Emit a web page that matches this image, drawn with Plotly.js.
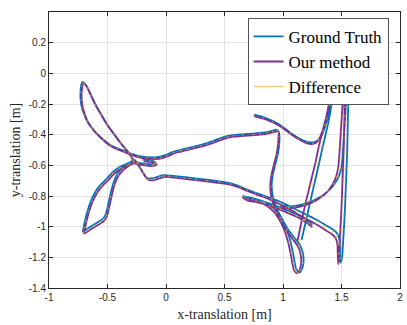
<!DOCTYPE html>
<html>
<head>
<meta charset="utf-8">
<script src="https://cdn.plot.ly/plotly-3.0.1.min.js"></script>
<style>
  html, body { margin: 0; padding: 0; background: #fff; }
  #plot { width: 407px; height: 325px; }
</style>
</head>
<body>
<div id="plot"></div>
<script>
// trajectory, segments split with null
// seg A: top right hook + steep line, seg B: left loops + upper line + right loop, seg C: lower line + right verticals
var gtX = [
  0.75, 0.83, 0.91, 0.99, 1.06, 1.13, 1.20, 1.26, 1.31, 1.35, 1.38, 1.405, 1.425, 1.415, 1.385, 1.342, 1.31, 1.268, 1.235, 1.20, 1.159,
  null,
  -0.20, -0.14, -0.10, -0.09, -0.12, -0.18, -0.24, -0.28,
  -0.34, -0.40, -0.46, -0.51, -0.56, -0.60, -0.64, -0.67, -0.69, -0.703, -0.71,
  -0.67, -0.62, -0.57, -0.535, -0.515, -0.50, -0.478, -0.452, -0.415, -0.37, -0.32, -0.285,
  -0.30, -0.324, -0.36, -0.395, -0.45, -0.509, -0.56, -0.609, -0.645, -0.675, -0.70, -0.714,
  -0.726, -0.731, -0.73, -0.72, -0.70, -0.68, -0.64, -0.595, -0.54, -0.48, -0.42, -0.36, -0.30, -0.24, -0.17, -0.10, -0.05,
  0.00, 0.06, 0.12, 0.175, 0.23, 0.29, 0.35, 0.40, 0.46, 0.52, 0.57, 0.65, 0.745, 0.80, 0.86, 0.91, 0.945,
  0.962, 0.97, 0.968, 0.955, 0.932, 0.912, 0.903, 0.915, 0.943, 0.985, 1.04, 1.10, 1.145, 1.172, 1.175, 1.16, 1.14, 1.115, 1.10, 1.085, 1.065, 1.035, 0.995, 0.95, 0.89, 0.82, 0.745, 0.68, 0.66,
  0.70, 0.77, 0.84, 0.91, 0.98, 1.05, 1.12, 1.18, 1.22, 1.25,
  null,
  -0.281, -0.252, -0.225, -0.20, -0.175, -0.153, -0.11, -0.06, -0.025, 0.02, 0.08, 0.15, 0.25, 0.35, 0.45, 0.546, 0.63, 0.69, 0.76, 0.83, 0.90, 0.973, 1.05, 1.116, 1.20, 1.287, 1.36, 1.43, 1.468, 1.485, 1.487, 1.49,
  1.505, 1.512, 1.52, 1.527, 1.533, 1.538, 1.543, 1.548, 1.551, 1.554, 1.557, 1.56, 1.563,
  1.548, 1.54, 1.532, 1.523, 1.515, 1.508, 1.498, 1.478, 1.445, 1.395, 1.335, 1.265, 1.185, 1.105, 1.035, 0.975
];
var gtY = [
  -0.27, -0.285, -0.31, -0.345, -0.385, -0.42, -0.445, -0.45, -0.43, -0.37, -0.29, -0.20, -0.13, -0.20, -0.33, -0.47, -0.58, -0.72, -0.83, -0.95, -1.086,
  null,
  -0.562, -0.566, -0.575, -0.583, -0.592, -0.59, -0.582, -0.575,
  -0.592, -0.612, -0.648, -0.69, -0.728, -0.768, -0.83, -0.895, -0.955, -1.00, -1.032,
  -1.012, -0.988, -0.965, -0.945, -0.92, -0.875, -0.80, -0.72, -0.655, -0.615, -0.588, -0.565,
  -0.54, -0.512, -0.48, -0.446, -0.39, -0.327, -0.262, -0.197, -0.14, -0.09, -0.062, -0.056,
  -0.08, -0.12, -0.17, -0.22, -0.265, -0.303, -0.35, -0.39, -0.43, -0.466, -0.488, -0.505, -0.523, -0.538, -0.546, -0.549, -0.544,
  -0.532, -0.512, -0.50, -0.489, -0.479, -0.468, -0.455, -0.442, -0.424, -0.41, -0.403, -0.398, -0.393, -0.389, -0.383, -0.374, -0.368,
  -0.378, -0.41, -0.46, -0.53, -0.60, -0.665, -0.74, -0.81, -0.875, -0.94, -1.015, -1.075, -1.12, -1.18, -1.235, -1.28, -1.30, -1.28, -1.235, -1.17, -1.10, -1.025, -0.96, -0.905, -0.86, -0.832, -0.815, -0.805, -0.80,
  -0.815, -0.825, -0.838, -0.856, -0.876, -0.898, -0.922, -0.948, -0.97, -0.99,
  null,
  -0.555, -0.58, -0.612, -0.645, -0.673, -0.684, -0.684, -0.672, -0.664, -0.665, -0.67, -0.676, -0.685, -0.694, -0.704, -0.716, -0.737, -0.757, -0.778, -0.795, -0.815, -0.837, -0.864, -0.89, -0.922, -0.955, -0.988, -1.02, -1.05, -1.10, -1.17, -1.235,
  -1.20, -1.12, -1.02, -0.92, -0.82, -0.72, -0.62, -0.52, -0.42, -0.32, -0.22, -0.14, -0.085,
  -0.10, -0.18, -0.28, -0.38, -0.48, -0.56, -0.62, -0.67, -0.715, -0.762, -0.798, -0.828, -0.851, -0.864, -0.868, -0.862
];
var estX = [
  0.755, 0.835, 0.915, 0.995, 1.065, 1.135, 1.20, 1.255, 1.30, 1.335, 1.365, 1.39, 1.41, 1.395, 1.35, 1.305, 1.275, 1.23, 1.195, 1.16, 1.125,
  null,
  -0.19, -0.13, -0.09, -0.08, -0.11, -0.17, -0.23, -0.27,
  -0.33, -0.39, -0.45, -0.50, -0.55, -0.59, -0.63, -0.66, -0.68, -0.693, -0.70,
  -0.66, -0.61, -0.56, -0.525, -0.505, -0.49, -0.468, -0.442, -0.405, -0.36, -0.31, -0.275,
  -0.29, -0.314, -0.35, -0.385, -0.44, -0.499, -0.55, -0.599, -0.635, -0.665, -0.69, -0.704,
  -0.716, -0.721, -0.72, -0.71, -0.69, -0.67, -0.63, -0.585, -0.53, -0.47, -0.41, -0.35, -0.29, -0.23, -0.16, -0.09, -0.04,
  0.01, 0.07, 0.13, 0.185, 0.24, 0.30, 0.36, 0.41, 0.47, 0.53, 0.58, 0.66, 0.755, 0.81, 0.87, 0.92, 0.952,
  0.965, 0.962, 0.958, 0.944, 0.92, 0.90, 0.891, 0.903, 0.93, 0.97, 1.025, 1.085, 1.128, 1.152, 1.155, 1.14, 1.12, 1.095, 1.08, 1.065, 1.045, 1.017, 0.98, 0.937, 0.88, 0.812, 0.738, 0.675, 0.655,
  0.70, 0.77, 0.84, 0.91, 0.98, 1.05, 1.12, 1.18, 1.22, 1.25,
  null,
  -0.271, -0.242, -0.215, -0.19, -0.165, -0.143, -0.10, -0.05, -0.015, 0.03, 0.09, 0.16, 0.26, 0.36, 0.46, 0.556, 0.64, 0.70, 0.77, 0.84, 0.905, 0.975, 1.05, 1.115, 1.195, 1.28, 1.35, 1.415, 1.45, 1.465, 1.468, 1.472,
  1.478, 1.483, 1.49, 1.497, 1.503, 1.508, 1.513, 1.518, 1.521, 1.524, 1.527, 1.532, 1.538,
  1.52, 1.512, 1.503, 1.494, 1.486, 1.479, 1.47, 1.452, 1.423, 1.378, 1.322, 1.255, 1.177, 1.097, 1.027, 0.967
];
var estY = [
  -0.28, -0.295, -0.32, -0.355, -0.395, -0.43, -0.455, -0.46, -0.44, -0.38, -0.30, -0.21, -0.14, -0.21, -0.34, -0.48, -0.59, -0.73, -0.84, -0.96, -1.09,
  null,
  -0.574, -0.578, -0.587, -0.595, -0.604, -0.602, -0.594, -0.587,
  -0.604, -0.624, -0.66, -0.702, -0.74, -0.78, -0.842, -0.907, -0.967, -1.012, -1.046,
  -1.026, -1.002, -0.979, -0.959, -0.932, -0.887, -0.812, -0.732, -0.667, -0.627, -0.60, -0.577,
  -0.552, -0.524, -0.492, -0.458, -0.402, -0.339, -0.274, -0.209, -0.152, -0.102, -0.072, -0.064,
  -0.088, -0.128, -0.178, -0.228, -0.275, -0.313, -0.36, -0.40, -0.44, -0.476, -0.498, -0.515, -0.533, -0.548, -0.556, -0.559, -0.554,
  -0.542, -0.522, -0.51, -0.499, -0.489, -0.478, -0.465, -0.452, -0.434, -0.42, -0.413, -0.408, -0.403, -0.399, -0.393, -0.384, -0.378,
  -0.388, -0.415, -0.462, -0.532, -0.602, -0.667, -0.742, -0.815, -0.882, -0.948, -1.022, -1.083, -1.128, -1.185, -1.24, -1.285, -1.305, -1.285, -1.24, -1.175, -1.105, -1.032, -0.97, -0.917, -0.873, -0.845, -0.828, -0.817, -0.81,
  -0.83, -0.84, -0.853, -0.871, -0.891, -0.913, -0.937, -0.963, -0.985, -1.005,
  null,
  -0.567, -0.592, -0.624, -0.657, -0.685, -0.696, -0.696, -0.684, -0.676, -0.677, -0.682, -0.688, -0.697, -0.706, -0.716, -0.728, -0.749, -0.769, -0.79, -0.808, -0.83, -0.855, -0.884, -0.912, -0.948, -0.983, -1.016, -1.048, -1.075, -1.115, -1.18, -1.245,
  -1.21, -1.12, -1.02, -0.92, -0.82, -0.72, -0.62, -0.52, -0.42, -0.32, -0.22, -0.14, -0.09,
  -0.11, -0.18, -0.28, -0.38, -0.48, -0.56, -0.625, -0.678, -0.725, -0.774, -0.81, -0.84, -0.863, -0.876, -0.88, -0.874
];

var xTicks = [-1, -0.5, 0, 0.5, 1, 1.5, 2];
var xTickText = ['-1', '-0.5', '0', '0.5', '1', '1.5', '2'];
var yTicks = [-1.4, -1.2, -1, -0.8, -0.6, -0.4, -0.2, 0, 0.2];
var yTickText = ['-1.4', '-1.2', '-1', '-0.8', '-0.6', '-0.4', '-0.2', '0', '0.2'];

// difference: segment from each ground truth point to its estimate
var diffX = [], diffY = [];
for (var i = 0; i < gtX.length; i++) {
  if (gtX[i] === null) continue;
  diffX.push(gtX[i], estX[i], null);
  diffY.push(gtY[i], estY[i], null);
}

var gt = {
  x: gtX, y: gtY, name: 'Ground Truth',
  type: 'scatter', mode: 'lines',
  line: {color: '#0072BD', width: 1.8, shape: 'spline', smoothing: 0.6}
};
var est = {
  x: estX, y: estY, name: 'Our method',
  type: 'scatter', mode: 'lines',
  line: {color: '#7E2F8E', width: 1.8, shape: 'spline', smoothing: 0.6}
};
var diff = {
  x: diffX, y: diffY, name: 'Difference',
  type: 'scatter', mode: 'lines',
  line: {color: 'rgba(237,177,32,0.6)', width: 1.5}
};

var axisFont = {family: 'Liberation Sans, Arial, sans-serif', size: 10, color: '#262626'};
var titleFont = {family: 'Liberation Serif, Times New Roman, serif', size: 14, color: '#262626'};

var layout = {
  width: 407, height: 325,
  margin: {l: 49, r: 7, t: 12, b: 37},
  paper_bgcolor: '#fff', plot_bgcolor: '#fff',
  showlegend: true,
  legend: {
    x: 0.968, y: 0.978, xanchor: 'right', yanchor: 'top',
    bgcolor: '#fff', bordercolor: '#262626', borderwidth: 0.8,
    font: {family: 'Liberation Serif, Times New Roman, serif', size: 17, color: '#000'},
    tracegroupgap: 0
  },
  xaxis: {
    range: [-1, 2], tickvals: xTicks, ticktext: xTickText,
    ticks: 'inside', ticklen: 4, tickcolor: '#262626',
    showline: true, mirror: 'ticks', linecolor: '#262626', linewidth: 1,
    showgrid: true, gridcolor: '#e3e3e3', zeroline: false,
    tickfont: axisFont,
    title: {text: 'x-translation [m]', font: titleFont, standoff: 7}
  },
  yaxis: {
    range: [-1.4, 0.4], tickvals: yTicks, ticktext: yTickText,
    ticks: 'inside', ticklen: 4, tickcolor: '#262626',
    showline: true, mirror: 'ticks', linecolor: '#262626', linewidth: 1,
    showgrid: true, gridcolor: '#e3e3e3', zeroline: false,
    tickfont: axisFont,
    title: {text: 'y-translation [m]', font: titleFont, standoff: 4}
  }
};

Plotly.newPlot('plot', [gt, est, diff], layout, {displayModeBar: false, staticPlot: true});
</script>
</body>
</html>
